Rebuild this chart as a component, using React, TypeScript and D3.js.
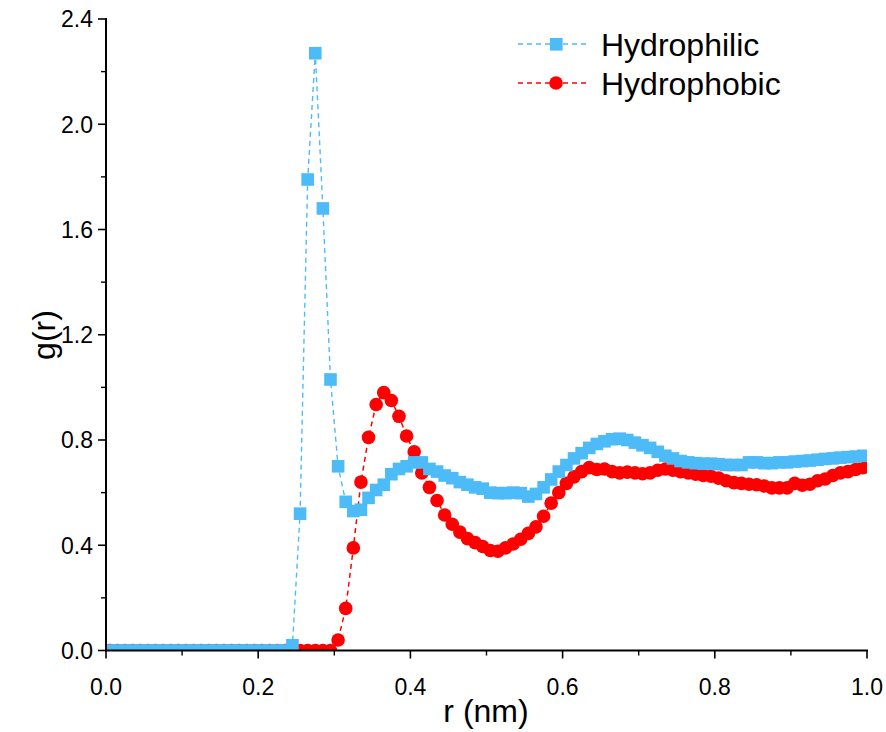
import React from "react";
import * as d3 from "d3";

const rValues: number[] = Array.from({ length: 100 }, (_, i) => +(0.005 + 0.01 * i).toFixed(3));

const hydrophilic: number[] = [
  0, 0, 0, 0, 0, 0, 0, 0, 0, 0,
  0, 0, 0, 0, 0, 0, 0, 0, 0, 0,
  0, 0, 0, 0, 0.02, 0.52, 1.79, 2.27, 1.68, 1.03,
  0.70, 0.565, 0.53, 0.535, 0.58, 0.61, 0.63, 0.67, 0.69, 0.70,
  0.715, 0.715, 0.69, 0.68, 0.665, 0.655, 0.64, 0.63, 0.62, 0.615,
  0.60, 0.598, 0.598, 0.60, 0.598, 0.585, 0.595, 0.62, 0.65, 0.68,
  0.705, 0.73, 0.75, 0.77, 0.785, 0.795, 0.803, 0.805, 0.80, 0.79,
  0.78, 0.77, 0.755, 0.74, 0.73, 0.72, 0.715, 0.712, 0.71, 0.71,
  0.708, 0.705, 0.705, 0.705, 0.715, 0.715, 0.712, 0.712, 0.715, 0.715,
  0.718, 0.72, 0.722, 0.725, 0.728, 0.73, 0.733, 0.735, 0.737, 0.74,
];

const hydrophobic: number[] = [
  0, 0, 0, 0, 0, 0, 0, 0, 0, 0,
  0, 0, 0, 0, 0, 0, 0, 0, 0, 0,
  0, 0, 0, 0, 0, 0, 0, 0, 0, 0,
  0.04, 0.16, 0.39, 0.64, 0.81, 0.935, 0.98, 0.95, 0.89, 0.815,
  0.755, 0.675, 0.62, 0.57, 0.515, 0.48, 0.45, 0.425, 0.41, 0.395,
  0.38, 0.377, 0.39, 0.405, 0.423, 0.445, 0.47, 0.51, 0.56, 0.60,
  0.635, 0.66, 0.68, 0.695, 0.688, 0.69, 0.68, 0.675, 0.678, 0.675,
  0.672, 0.675, 0.685, 0.69, 0.685, 0.68, 0.675, 0.67, 0.665, 0.662,
  0.655, 0.645, 0.638, 0.635, 0.632, 0.63, 0.625, 0.618, 0.618, 0.618,
  0.635, 0.628, 0.632, 0.645, 0.652, 0.665, 0.675, 0.68, 0.688, 0.695,
];

const seriesNames: string[] = ["Hydrophilic", "Hydrophobic"];
const xTickValues: number[] = [0, 0.2, 0.4, 0.6, 0.8, 1.0];
const yTickValues: number[] = [0, 0.4, 0.8, 1.2, 1.6, 2.0, 2.4];
const xMinorTicks: number[] = [0.1, 0.3, 0.5, 0.7, 0.9];
const yMinorTicks: number[] = [0.2, 0.6, 1.0, 1.4, 1.8, 2.2];

const BLUE = "#4dbbf8";
const RED = "#ff0000";
const FONT = "'Liberation Sans', Arial, sans-serif";

export default function App() {
  const W = 886, H = 732;
  const left = 106, right = 867, top = 19, bottom = 650.5;
  const x = d3.scaleLinear().domain([0, 1]).range([left, right]);
  const y = d3.scaleLinear().domain([0, 2.4]).range([bottom, top]);

  const lineGen = (vals: number[]) =>
    d3.line<number>().x((_, i) => x(rValues[i])).y((d) => y(d))(vals) || "";

  return (
    <svg width={W} height={H} style={{ position: "absolute", left: 0, top: 0, background: "#fff" }}>
      <defs>
        <clipPath id="plotclip">
          <rect x={left} y={0} width={right - left} height={bottom} />
        </clipPath>
      </defs>
      <rect x={0} y={0} width={W} height={H} fill="#fff" />
      <g clipPath="url(#plotclip)">
        <path d={lineGen(hydrophobic)} fill="none" stroke={RED} strokeWidth={1.5} strokeDasharray="5,4" />
        {hydrophobic.map((v, i) => (
          <circle key={"c" + i} cx={x(rValues[i])} cy={y(v)} r={6.8} fill={RED} />
        ))}
        <path d={lineGen(hydrophilic)} fill="none" stroke={BLUE} strokeWidth={1.4} strokeDasharray="5,4" />
        {hydrophilic.map((v, i) => (
          <rect key={"s" + i} x={x(rValues[i]) - 6.3} y={y(v) - 6.3} width={12.6} height={12.6} fill={BLUE} />
        ))}
      </g>
      {/* axes */}
      <line x1={left} x2={left} y1={top - 1} y2={bottom + 1} stroke="#000" strokeWidth={2} />
      <line x1={left - 1} x2={right + 1} y1={bottom} y2={bottom} stroke="#000" strokeWidth={2} />
      {yTickValues.map((t) => (
        <g key={"yt" + t}>
          <line x1={left - 8} x2={left} y1={y(t)} y2={y(t)} stroke="#000" strokeWidth={1.6} />
          <text x={left - 13} y={y(t)} dy="0.36em" textAnchor="end" fontSize={23} fontFamily={FONT} fill="#000">
            {t.toFixed(1)}
          </text>
        </g>
      ))}
      {yMinorTicks.map((t) => (
        <line key={"ym" + t} x1={left - 5} x2={left} y1={y(t)} y2={y(t)} stroke="#000" strokeWidth={1.4} />
      ))}
      {xTickValues.map((t) => (
        <g key={"xt" + t}>
          <line x1={x(t)} x2={x(t)} y1={bottom} y2={bottom + 8} stroke="#000" strokeWidth={1.6} />
          <text x={x(t)} y={bottom + 44} textAnchor="middle" fontSize={23} fontFamily={FONT} fill="#000">
            {t.toFixed(1)}
          </text>
        </g>
      ))}
      {xMinorTicks.map((t) => (
        <line key={"xm" + t} x1={x(t)} x2={x(t)} y1={bottom} y2={bottom + 5} stroke="#000" strokeWidth={1.4} />
      ))}
      <text x={486} y={722} textAnchor="middle" fontSize={32} fontFamily={FONT} fill="#000">
        r (nm)
      </text>
      <text
        transform={`translate(44, ${335}) rotate(-90)`}
        textAnchor="middle"
        dy="0.35em"
        fontSize={32}
        fontFamily={FONT}
        fill="#000"
      >
        g(r)
      </text>
      {/* legend */}
      <g>
        <line x1={518} x2={586} y1={44} y2={44} stroke={BLUE} strokeWidth={1.4} strokeDasharray="5,4" />
        <rect x={550} y={38} width={12.6} height={12.6} fill={BLUE} />
        <text x={601} y={44} dy="0.36em" fontSize={32} fontFamily={FONT} fill="#000">{seriesNames[0]}</text>
        <line x1={518} x2={586} y1={83} y2={83} stroke={RED} strokeWidth={1.5} strokeDasharray="5,4" />
        <circle cx={556} cy={83} r={6.8} fill={RED} />
        <text x={601} y={83} dy="0.36em" fontSize={32} fontFamily={FONT} fill="#000">{seriesNames[1]}</text>
      </g>
    </svg>
  );
}
